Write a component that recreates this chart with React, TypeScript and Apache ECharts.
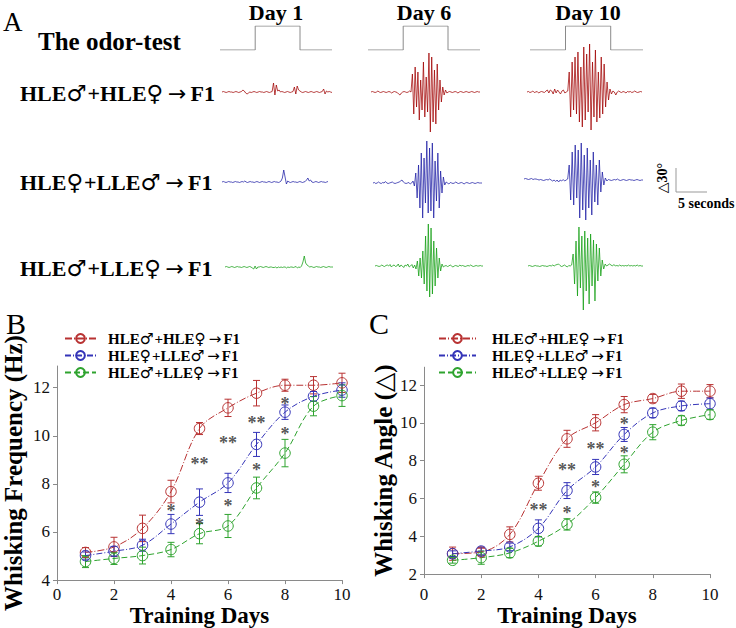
import React, { useEffect, useRef } from "react";
import * as echarts from "echarts";

// ---------------- DATA ----------------
const days = [1, 2, 3, 4, 5, 6, 7, 8, 9, 10];
const groupNames = ["HLE♂+HLE♀→F1", "HLE♀+LLE♂→F1", "HLE♂+LLE♀→F1"];
const dayLabels = ["Day 1", "Day 6", "Day 10"];

// Panel B: whisking frequency (Hz)
const freqRed = [5.15, 5.38, 6.15, 7.68, 10.3, 11.16, 11.77, 12.1, 12.1, 12.2];
const freqRedErr = [0.2, 0.4, 0.55, 0.47, 0.25, 0.36, 0.53, 0.25, 0.36, 0.4];
const freqBlue = [5.02, 5.2, 5.45, 6.33, 7.24, 8.04, 9.64, 10.98, 11.64, 11.9];
const freqBlueErr = [0.15, 0.2, 0.25, 0.4, 0.55, 0.4, 0.5, 0.3, 0.2, 0.3];
const freqGreen = [4.77, 4.9, 5.02, 5.27, 5.93, 6.25, 7.83, 9.28, 11.23, 11.67];
const freqGreenErr = [0.25, 0.25, 0.35, 0.3, 0.42, 0.48, 0.45, 0.57, 0.4, 0.45];
const starXB = [4, 5, 5, 6, 6, 7, 7, 8, 8];
const starYB = [7.05, 6.45, 9.0, 9.85, 7.25, 10.68, 8.75, 11.47, 10.23];
const starTextB = ["*", "*", "**", "**", "*", "**", "*", "*", "*"];

// Panel C: whisking angle
const angRed = [3.08, 3.17, 4.1, 6.81, 9.16, 10.01, 10.97, 11.29, 11.68, 11.68];
const angRedErr = [0.35, 0.2, 0.4, 0.37, 0.45, 0.43, 0.43, 0.22, 0.38, 0.35];
const angBlue = [3.08, 3.22, 3.44, 4.42, 6.42, 7.67, 9.39, 10.53, 10.9, 11.02];
const angBlueErr = [0.15, 0.2, 0.2, 0.45, 0.42, 0.4, 0.37, 0.25, 0.25, 0.3];
const angGreen = [2.73, 2.87, 3.12, 3.74, 4.63, 6.05, 7.81, 9.51, 10.13, 10.44];
const angGreenErr = [0.15, 0.35, 0.25, 0.25, 0.3, 0.3, 0.45, 0.4, 0.25, 0.25];
const starXC = [4, 5, 5, 6, 6, 7, 7];
const starYC = [5.58, 5.43, 7.71, 6.82, 8.82, 8.6, 10.15];
const starTextC = ["**", "*", "**", "*", "**", "*", "*"];

// Odor stimulus (seconds)
const stepTime = [0, 5.5, 5.5, 12.5, 12.5, 17.5];
const stepLevel = [0, 0, 1, 1, 0, 0];

// Whisker traces (deflection, degrees-ish)
const redD1 = [0,0.5,0,-0.5,0,0.5,0,0,-0.5,0,0.5,0,-0.5,0,0.5,
  2,1,-1,-2,-1,
  0,-0.5,0,0.5,0,-0.5,0,0.5,0,0,-0.5,0,0.5,0,-0.5,0,0.5,
  9,-3,7,1,2,
  0,0.5,0,-0.5,0,0.5,0,-0.5,0,0.5,
  5,-2,6,2,1,
  0,-0.5,0,0.5,0,-0.5,0,0.5,0,-0.5,0,0.5,0,-0.5,0,0.5,
  3,-2,1,
  0,0.5,0,-0.5];
const redD6 = [0,0.5,0,-0.5,0,1,0,-0.5,0,0.5,0,-0.5,0,0.5,0,-1,0,0.5,0,-0.5,-2,-3,-1,0,0.5,0,-0.5,0,1,0,
  18,-22,25,-15,20,-28,12,-18,30,-25,15,-20,39,-40,35,-30,22,-32,28,-18,12,-10,
  5,-3,2,-1,
  0,0.5,0,-0.5,0,0.5,0,-1,0,0.5,0,-0.5,0,0.5,0,-0.5,0,0.5,0,-0.5,0,0.5,0,0];
const redD10 = [0,0.5,-0.5,0,1,-0.5,0,0.5,-1,0,0.5,0,-0.5,1,2,-1,2,1,-2,3,-1,2,0,-2,1,2,-1,0,1,
  20,-25,30,-18,35,-22,40,-30,25,-35,45,-28,38,-20,48,-38,30,-25,42,-30,20,-26,35,-22,28,-15,10,-8,
  3,-2,1,0,-3,0,1,0,-0.5,0.5,0,-1,0.5,0,0.5,-0.5,0,1,0,-0.5,0,0.5,0];
const blueD1 = [0,0.5,0,-0.5,0,0.5,0,0,-0.5,0,0.5,0,0,-0.5,0,0.5,0,1,0,-0.5,0,0.5,0,0,-0.5,0,0.5,0,-0.5,0,0.5,0,0,-0.5,0,0.5,0,-0.5,0,0.5,0,0,-0.5,0,1,
  4,12,5,-2,1,
  0,-0.5,0,0.5,0,0,-0.5,0,0.5,0,-0.5,0,0.5,
  2,4,1,2,
  0,-0.5,0,0.5,0,-0.5,0,0.5,0,0,-0.5,0,0.5];
const blueD6 = [0,0.5,-0.5,0,1,0,-0.5,0.5,0,1.5,0,-0.5,0,0.5,1,0,-0.5,0,0.5,1,2,3,1,0,-0.5,0,0.5,-1,0,2,-3,
  10,-15,18,-25,30,-35,25,-20,42,-30,35,-28,40,-35,22,-18,30,-25,12,-10,6,
  -2,1,0,-1,0.5,0,-0.5,0,1,0,-0.5,0,0.5,0,-1,0,0.5,0,-0.5,0,0.5,0,-0.5,0,0.5,0,0,0];
const blueD10 = [1,1.5,1,0.5,1,1.5,0.5,1,1,0.5,0,0.5,0,-0.5,0,0.5,0,1,0,-1,0,-1.5,0,-2,0,-1,0.5,-1,0,1,
  15,-20,28,-25,35,-18,30,-38,37,-30,25,-40,32,-28,20,-35,28,-22,15,-25,20,-12,8,-5,
  2,-1,0.5,0,-0.5,0,0.5,0,1,0,-0.5,0,0.5,0,-0.5,0,0.5,0,0,-0.5,0,0.5,0,-0.5,0,0];
const greenD1 = [0,0.5,0,-0.5,0,0.5,0,-0.5,0,0.5,0,0,-0.5,0,0.5,0,-0.5,0,0.5,0,-1,
  -2,1,-2,0,
  0,0.5,0,-0.5,0,0.5,0,-0.5,0,0,-0.5,-0.5,0,-1,0,-0.5,0,-0.5,0,0,-1,0,-0.5,0,0,-0.5,0,0.5,-1,0,-0.5,1,
  5,11,4,2,1,
  0,0.5,0,-0.5,0,0.5,0,0,-0.5,0,0.5,0,-0.5,0,0.5,0,0,0];
const greenD6 = [0,0.5,0,-0.5,0,1,0,-0.5,0.5,1,0,1.5,-1,0.5,1,-0.5,0,2,-1,1,0,-1.5,1,0,2,-1,0,1.5,-2,1,-3,
  5,-10,8,-12,15,-18,30,-25,42,-31,38,-28,25,-20,18,-12,8,-5,
  2,-1,0,0.5,-0.5,0,1,0,-1,0,0.5,0,-0.5,1,0,0.5,0,-0.5,0,0.5,0,1,0,-0.5,0,0.5,0,0,0.5,0,0];
const greenD10 = [0,0.5,0,-0.5,0,0.5,0,0,-0.5,0,0.5,0,0,-0.5,0,0.5,0,1,0,1,1.5,2,0.5,-0.5,0,1,0,-1,0.5,0,1,
  12,-18,25,-30,39,-22,30,-44,35,-25,28,-38,32,-20,26,-35,22,-15,18,-10,6,
  -3,2,0,1,2,1,0,1.5,0,0.5,0,1,0,0.5,0,0.5,0,1,0,0.5,0,0.5,0,1,0,0.5,0,0];

// ---------------- STYLE / LAYOUT ----------------
const SERIF = "'Liberation Serif', 'Times New Roman', 'DejaVu Serif', serif";
const SYM = "'DejaVu Sans', 'Noto Sans', sans-serif";
const lineColors = ["#b83232", "#3434b8", "#2ea32e"];
const traceColors = ["#a00000", "#1c1ca4", "#109e10"];
const dashes = [[7, 2, 1, 2], [6, 2, 1, 2], [6, 3]];

const traceData = [redD1, redD6, redD10, blueD1, blueD6, blueD10, greenD1, greenD6, greenD10];
const traceLayout = [
  { x0: 222, x1: 332, base: 92 }, { x0: 371, x1: 480, base: 92 }, { x0: 527, x1: 642, base: 92 },
  { x0: 222, x1: 328, base: 182 }, { x0: 373, x1: 482, base: 183 }, { x0: 524, x1: 643, base: 180 },
  { x0: 225, x1: 333, base: 267 }, { x0: 375, x1: 483, base: 266 }, { x0: 528, x1: 643, base: 266 },
];
const stepLayout = [{ x0: 220, x1: 332 }, { x0: 368, x1: 480 }, { x0: 530, x1: 643 }];
const dayCenters = [276, 424, 588];
const rowCenters = [93, 182, 268];

function richName(n: string) {
  return n.replace(/[♂♀]/g, (c) => `{s|${c}}`).replace("→", "{a|→}");
}
function richStyles(size: number, arrowPad: number, lh?: number) {
  const extra = lh ? { lineHeight: lh } : {};
  return {
    s: { fontFamily: SYM, fontSize: size * 1.02, fontWeight: "normal", color: "#000", padding: [0, 1, 0, 0], ...extra },
    a: { fontFamily: SYM, fontSize: size, fontWeight: "normal", color: "#000", padding: [0, arrowPad, 0, arrowPad], ...extra },
  };
}

function buildOption() {
  const grid: any[] = [];
  const xAxis: any[] = [];
  const yAxis: any[] = [];
  const series: any[] = [];

  traceData.forEach((tr, k) => {
    const L = traceLayout[k];
    const gi = grid.length;
    grid.push({ left: L.x0, top: L.base - 55, width: L.x1 - L.x0, height: 110 });
    xAxis.push({ gridIndex: gi, type: "value", min: 0, max: tr.length - 1, show: false });
    yAxis.push({ gridIndex: gi, type: "value", min: -55, max: 55, show: false });
    series.push({
      type: "line", xAxisIndex: gi, yAxisIndex: gi, showSymbol: false, silent: true,
      data: tr.map((v, i) => [i, v]),
      lineStyle: { color: traceColors[Math.floor(k / 3)], width: 0.75 },
    });
  });
  stepLayout.forEach((S) => {
    const gi = grid.length;
    grid.push({ left: S.x0, top: 26, width: S.x1 - S.x0, height: 24 });
    xAxis.push({ gridIndex: gi, type: "value", min: 0, max: 17.5, show: false });
    yAxis.push({ gridIndex: gi, type: "value", min: 0, max: 1, show: false });
    series.push({
      type: "line", xAxisIndex: gi, yAxisIndex: gi, showSymbol: false, silent: true,
      data: stepTime.map((t, i) => [t, stepLevel[i]]),
      lineStyle: { color: "#8a8a8a", width: 1 },
    });
  });

  const axisLineStyle = { color: "#8a8a8a", width: 1 };
  const panels = [
    {
      grid: { left: 56, top: 366, width: 286, height: 214.7 },
      ymin: 4, ymax: 12.9, yvals: [4, 6, 8, 10, 12], yname: "Whisking Frequency (Hz)", ynameGap: 31,
      xnameGap: 21, xlabelMargin: 6,
      means: [freqRed, freqBlue, freqGreen], errs: [freqRedErr, freqBlueErr, freqGreenErr],
      sx: starXB, sy: starYB, st: starTextB,
    },
    {
      grid: { left: 424, top: 367.2, width: 286, height: 207.1 },
      ymin: 2, ymax: 12.95, yvals: [2, 4, 6, 8, 10, 12], yname: "Whisking Angle (△)", ynameGap: 27,
      xnameGap: 26, xlabelMargin: 12,
      means: [angRed, angBlue, angGreen], errs: [angRedErr, angBlueErr, angGreenErr],
      sx: starXC, sy: starYC, st: starTextC,
    },
  ];

  panels.forEach((P) => {
    const gi = grid.length;
    grid.push(P.grid);
    xAxis.push({
      gridIndex: gi, type: "value", min: 0, max: 10, interval: 2,
      name: "Training Days", nameLocation: "middle", nameGap: P.xnameGap,
      nameTextStyle: { fontFamily: SERIF, fontWeight: "bold", fontSize: 23, color: "#000" },
      axisLine: { show: true, lineStyle: axisLineStyle },
      axisTick: { show: true, length: 4, inside: false, lineStyle: axisLineStyle },
      axisLabel: { fontFamily: SERIF, fontSize: 17, color: "#111", margin: P.xlabelMargin },
      splitLine: { show: false },
    });
    yAxis.push({
      gridIndex: gi, type: "value", min: P.ymin, max: P.ymax,
      name: P.yname, nameLocation: "middle", nameGap: P.ynameGap, nameRotate: 90,
      nameTextStyle: { fontFamily: SERIF, fontWeight: "bold", fontSize: 25, color: "#000" },
      axisLine: { show: true, lineStyle: axisLineStyle },
      axisTick: { show: true, length: 4, inside: false, lineStyle: axisLineStyle, customValues: P.yvals },
      axisLabel: { fontFamily: SERIF, fontSize: 17, color: "#111", margin: 7, customValues: P.yvals },
      splitLine: { show: false },
    });
    P.means.forEach((m, g) => {
      const col = lineColors[g];
      const err = P.errs[g];
      series.push({
        type: "custom", xAxisIndex: gi, yAxisIndex: gi, silent: true, z: 2,
        data: days.map((d, i) => [d, m[i] - err[i], m[i] + err[i]]),
        encode: { x: 0, y: [1, 2] },
        renderItem: (params: any, api: any) => {
          const x = api.value(0);
          const p1 = api.coord([x, api.value(2)]);
          const p2 = api.coord([x, api.value(1)]);
          const w = 3.5;
          const style = { stroke: col, lineWidth: 1 };
          return {
            type: "group",
            children: [
              { type: "line", shape: { x1: p1[0], y1: p1[1], x2: p2[0], y2: p2[1] }, style },
              { type: "line", shape: { x1: p1[0] - w, y1: p1[1], x2: p1[0] + w, y2: p1[1] }, style },
              { type: "line", shape: { x1: p2[0] - w, y1: p2[1], x2: p2[0] + w, y2: p2[1] }, style },
            ],
          };
        },
      });
      series.push({
        type: "line", name: groupNames[g], xAxisIndex: gi, yAxisIndex: gi, z: 3,
        data: days.map((d, i) => [d, m[i]]),
        smooth: 0.35, symbol: "circle", symbolSize: 10.5, showSymbol: true,
        itemStyle: { color: "rgba(255,255,255,0)", borderColor: col, borderWidth: 1 },
        lineStyle: { color: col, width: 1, type: dashes[g] },
        emphasis: { disabled: true },
      });
    });
    series.push({
      type: "scatter", xAxisIndex: gi, yAxisIndex: gi, silent: true, z: 4,
      symbol: "circle", symbolSize: 1, itemStyle: { color: "rgba(0,0,0,0)" },
      data: P.sx.map((x, i) => [x, P.sy[i], P.st[i]]),
      label: {
        show: true, position: "inside", formatter: (p: any) => p.data[2],
        fontFamily: SERIF, fontSize: 18, fontWeight: "bold", color: "#2a2a2a", offset: [0, 4],
      },
    });
  });

  const legendCommon = {
    orient: "vertical", itemHeight: 11, itemGap: 2, selectedMode: false, padding: 0,
    data: groupNames, formatter: (n: string) => richName(n),
  };
  const legend = [
    { ...legendCommon, left: 64, top: 331, itemWidth: 31,
      textStyle: { fontFamily: SERIF, fontWeight: "bold", fontSize: 15, lineHeight: 15, color: "#000", padding: [0, 0, 0, 7], rich: richStyles(15, 2, 15) } },
    { ...legendCommon, left: 438, top: 331, itemWidth: 37,
      textStyle: { fontFamily: SERIF, fontWeight: "bold", fontSize: 15, lineHeight: 15, color: "#000", padding: [0, 0, 0, 11], rich: richStyles(15, 2, 15) } },
  ];

  const txt = (x: number, y: number, text: string, size: number, bold: boolean, align = "left", extra: any = {}, rich?: any) => ({
    type: "text", x, y, silent: true, ...extra,
    style: { text, fontFamily: SERIF, fontSize: size, fontWeight: bold ? "bold" : "normal", fill: "#000", align, verticalAlign: "middle", ...(rich ? { rich } : {}) },
  });

  const graphic: any[] = [
    txt(3, 21.5, "A", 27, false),
    txt(38, 41, "The odor-test", 25, true),
    ...dayLabels.map((d, i) => txt(dayCenters[i], 12, d, 22, true, "center")),
    ...groupNames.map((n, i) => txt(20, rowCenters[i], richName(n), 22, true, "left", {}, richStyles(22, 4))),
    txt(6, 323, "B", 30, false),
    txt(369, 323, "C", 30, false),
    { type: "line", silent: true, shape: { x1: 676, y1: 168, x2: 676, y2: 192 }, style: { stroke: "#999", lineWidth: 1 } },
    { type: "line", silent: true, shape: { x1: 676, y1: 192, x2: 707, y2: 192 }, style: { stroke: "#999", lineWidth: 1 } },
    txt(678, 203, "5 seconds", 14, true),
    txt(662, 178, "△30°", 14, true, "center", { rotation: Math.PI / 2 }),
  ];

  return {
    animation: false,
    backgroundColor: "#fff",
    grid, xAxis, yAxis, series, legend, graphic,
  };
}

export default function App() {
  const ref = useRef<HTMLDivElement>(null);
  useEffect(() => {
    if (!ref.current) return;
    const chart = echarts.init(ref.current, undefined, { renderer: "svg" });
    chart.setOption(buildOption() as any);
    return () => chart.dispose();
  }, []);
  return (
    <div
      ref={ref}
      style={{ position: "absolute", left: 0, top: 0, width: 736, height: 628, background: "#fff" }}
    />
  );
}
